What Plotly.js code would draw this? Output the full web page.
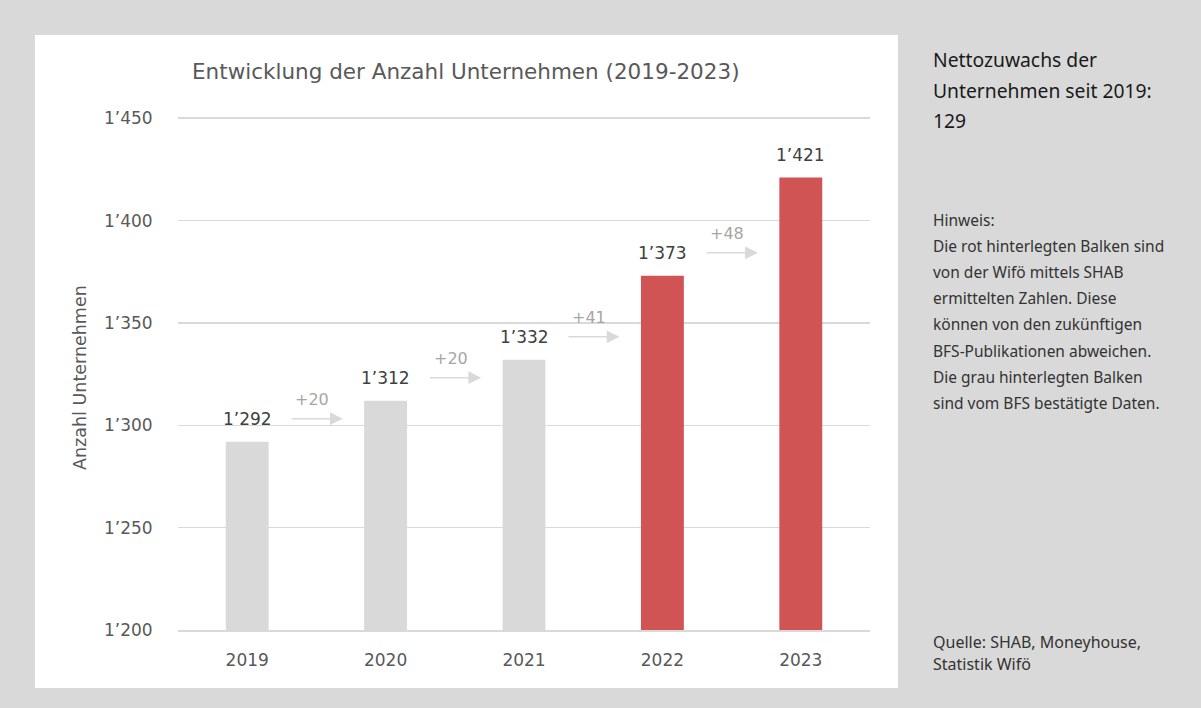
<!DOCTYPE html>
<html>
<head>
<meta charset="utf-8">
<script src="https://cdn.plot.ly/plotly-3.0.1.min.js"></script>
<style>html,body{margin:0;padding:0;background:#d9d9d9;}#chart{width:1201px;height:708px;}</style>
</head>
<body>
<div id="chart"></div>
<script>
const years = ['2019', '2020', '2021', '2022', '2023'];
const counts = [1292, 1312, 1332, 1373, 1421];
const barColors = ['#d9d9d9', '#d9d9d9', '#d9d9d9', '#d05454', '#d05454'];
const increments = ['+20', '+20', '+41', '+48'];
const yTickVals = [1200, 1250, 1300, 1350, 1400, 1450];
const chartTitle = 'Entwicklung der Anzahl Unternehmen (2019-2023)';
const yTitle = 'Anzahl Unternehmen';
const netLines = ['Nettozuwachs der', 'Unternehmen seit 2019:', '129'];
const noteLines = ['Hinweis:', 'Die rot hinterlegten Balken sind', 'von der Wifö mittels SHAB',
  'ermittelten Zahlen. Diese', 'können von den zukünftigen', 'BFS-Publikationen abweichen.',
  'Die grau hinterlegten Balken', 'sind vom BFS bestätigte Daten.'];
const sourceLines = ['Quelle: SHAB, Moneyhouse,', 'Statistik Wifö'];

const W = 1201, H = 708, L = 178, R = 870, T = 117, B = 630;
const px = x => (x - L) / (R - L);
const py = y => (B - y) / (B - T);
const FONT = 'DejaVu Sans, sans-serif';
const SIDE = 'Noto Sans, Open Sans, sans-serif';

const fmt = v => String(v).replace(/\B(?=(\d{3})+(?!\d))/g, '\u2019');

const annotations = [];
annotations.push({xref: 'paper', yref: 'paper', x: px(466), y: py(72), text: chartTitle,
  showarrow: false, xanchor: 'center', yanchor: 'middle', font: {family: FONT, size: 21.5, color: '#595959'}});
annotations.push({xref: 'paper', yref: 'paper', x: px(80), y: py(377), text: yTitle, textangle: -90,
  showarrow: false, xanchor: 'center', yanchor: 'middle', font: {family: FONT, size: 17.5, color: '#595959'}});
years.forEach((yr, i) => {
  annotations.push({x: i, y: counts[i], xref: 'x', yref: 'y', text: fmt(counts[i]), showarrow: false,
    yanchor: 'middle', yshift: 23, font: {family: FONT, size: 17, color: '#404040'}});
});
increments.forEach((t, i) => {
  annotations.push({x: i + 0.69, y: counts[i], ax: i + 0.31, ay: counts[i], xref: 'x', yref: 'y',
    axref: 'x', ayref: 'y', text: '', showarrow: true, arrowhead: 2, arrowsize: 1.7, arrowwidth: 1.5,
    arrowcolor: '#d9d9d9', yshift: 23, standoff: 0, startstandoff: 0});
  annotations.push({x: i + 0.47, y: counts[i], xref: 'x', yref: 'y', text: t, showarrow: false,
    yanchor: 'middle', yshift: 42, font: {family: FONT, size: 16, color: '#a6a6a6'}});
});
netLines.forEach((t, k) => annotations.push({xref: 'paper', yref: 'paper', x: px(931), y: py(60 + 30 * k),
  text: t, showarrow: false, xanchor: 'left', yanchor: 'middle', font: {family: SIDE, size: 19.3, color: '#1a1a1a'}}));
noteLines.forEach((t, k) => annotations.push({xref: 'paper', yref: 'paper', x: px(931), y: py(220 + 26.1 * k),
  text: t, showarrow: false, xanchor: 'left', yanchor: 'middle', font: {family: SIDE, size: 15.5, color: '#333333'}}));
sourceLines.forEach((t, k) => annotations.push({xref: 'paper', yref: 'paper', x: px(931), y: py(642 + 22 * k),
  text: t, showarrow: false, xanchor: 'left', yanchor: 'middle', font: {family: SIDE, size: 16, color: '#333333'}}));

const trace = {
  type: 'bar', x: [0, 1, 2, 3, 4], y: counts, marker: {color: barColors, line: {width: 0}},
  width: 0.31, hoverinfo: 'skip'
};

const layout = {
  width: W, height: H,
  margin: {l: L, r: W - R, t: T, b: H - B, pad: 0},
  paper_bgcolor: '#d9d9d9', plot_bgcolor: 'rgba(0,0,0,0)',
  showlegend: false,
  xaxis: {range: [-0.5, 4.5], tickvals: [0, 1, 2, 3, 4], ticktext: years, showgrid: false, zeroline: false,
    showline: true, linecolor: '#d9d9d9', linewidth: 1.5, ticks: 'outside', ticklen: 14,
    tickcolor: 'rgba(0,0,0,0)', tickfont: {family: FONT, size: 17, color: '#595959'}, fixedrange: true},
  yaxis: {range: [1200, 1450.6], tickvals: yTickVals, ticktext: yTickVals.map(fmt), showgrid: true,
    gridcolor: '#d9d9d9', gridwidth: 1.5, zeroline: false, showline: false, ticks: 'outside', ticklen: 21,
    tickcolor: 'rgba(0,0,0,0)', tickfont: {family: FONT, size: 17, color: '#595959'}, fixedrange: true},
  shapes: [{type: 'rect', xref: 'paper', yref: 'paper', x0: px(35), x1: px(898), y0: py(688), y1: py(35),
    fillcolor: '#ffffff', line: {width: 0}, layer: 'below'}],
  annotations: annotations
};

Plotly.newPlot('chart', [trace], layout, {displayModeBar: false, staticPlot: true});
</script>
</body>
</html>
